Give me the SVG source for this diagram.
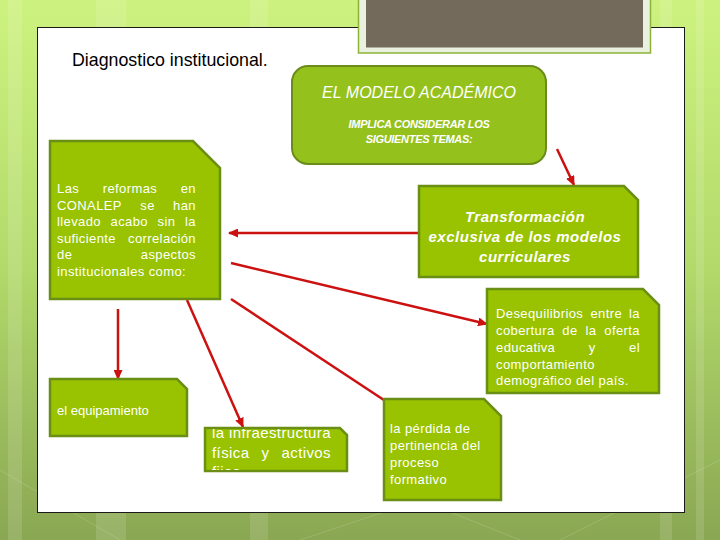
<svg xmlns="http://www.w3.org/2000/svg" width="720" height="540" viewBox="0 0 720 540">
<defs>
<linearGradient id="bg" x1="0" y1="0" x2="0" y2="1">
<stop offset="0" stop-color="#cdf27f"/>
<stop offset="0.5" stop-color="#b2d96a"/>
<stop offset="1" stop-color="#8aa753"/>
</linearGradient>
<marker id="ah" markerUnits="userSpaceOnUse" markerWidth="10" markerHeight="9" refX="9" refY="4.5" orient="auto">
<path d="M0,0 L10,4.5 L0,9 Z" fill="#cc1111"/>
</marker>
<clipPath id="clipInfra"><rect x="206" y="429" width="140" height="41"/></clipPath>
<style>
.box{fill:#99c300;stroke:#6a8f14;stroke-width:2.5}
.rbox{fill:#95c11c;stroke:#6b8c1a;stroke-width:2}
.t{font-family:"Liberation Sans",Arial,sans-serif;font-size:13px;fill:#ffffff;letter-spacing:0.4px}
.m{text-anchor:middle}
.e{text-anchor:end}
.conn line{stroke:#cc1111;stroke-width:2.5;marker-end:url(#ah)}
</style>
</defs>
<rect x="0" y="0" width="720" height="540" fill="url(#bg)"/>
<g fill="#ffffff" opacity="0.12">
<rect x="8" y="0" width="14" height="540"/>
<rect x="96" y="0" width="30" height="540"/>
<rect x="250" y="0" width="18" height="540"/>
<rect x="660" y="0" width="12" height="540"/>
<rect x="696" y="0" width="8" height="540"/>
</g>
<g stroke="#ffffff" stroke-width="1" opacity="0.15" fill="none">
<path d="M0,470 L120,540"/>
<path d="M560,540 L720,460"/>
<path d="M300,540 L420,500 L520,540"/>
</g>
<rect x="37.5" y="27.5" width="647" height="485" fill="#ffffff" stroke="#1a1a1a" stroke-width="1"/>
<g id="header">
<rect x="358.5" y="-5" width="292" height="58" fill="#eaf2df" stroke="#8db33a" stroke-width="1.5"/>
<rect x="366" y="-5" width="277" height="52.5" fill="#736a5b"/>
</g>
<text x="72" y="66" font-family="'Liberation Sans',Arial,sans-serif" font-size="17.8" fill="#000000">Diagnostico institucional.</text>
<g class="conn">
<line x1="557" y1="149" x2="574" y2="185"/>
<line x1="418" y1="233" x2="229" y2="233"/>
<line x1="231" y1="263" x2="487" y2="324"/>
<line x1="231" y1="299" x2="393" y2="406"/>
<line x1="187" y1="300" x2="243" y2="427"/>
<line x1="118" y1="309" x2="118" y2="379"/>
</g>
<g id="modelo">
<rect class="rbox" x="292" y="66" width="254" height="98" rx="16"/>
<text class="t m" x="419" y="98" style="font-size:16px;font-style:italic;letter-spacing:0">EL MODELO ACADÉMICO</text>
<text class="t m" x="419" y="128" style="font-size:11px;font-style:italic;font-weight:bold;letter-spacing:-0.3px">IMPLICA CONSIDERAR LOS</text>
<text class="t m" x="419" y="143" style="font-size:11px;font-style:italic;font-weight:bold;letter-spacing:-0.3px">SIGUIENTES TEMAS:</text>
</g>
<g id="reformas">
<path class="box" d="M50,141 H193 L220,168 V299 H50 Z"/>
<text class="t" x="57" y="193">Las</text><text class="t m" x="130" y="193">reformas</text><text class="t e" x="196" y="193">en</text>
<text class="t" x="57" y="209.5">CONALEP</text><text class="t m" x="147.5" y="209.5">se</text><text class="t e" x="196" y="209.5">han</text>
<text class="t" x="57" y="226">llevado</text><text class="t m" x="129.3" y="226">acabo</text><text class="t m" x="166.5" y="226">sin</text><text class="t e" x="196" y="226">la</text>
<text class="t" x="57" y="242.5">suficiente</text><text class="t e" x="196" y="242.5">correlación</text>
<text class="t" x="57" y="259">de</text><text class="t e" x="196" y="259">aspectos</text>
<text class="t" x="57" y="275.5">institucionales como:</text>
</g>
<g id="transformacion">
<path class="box" d="M419,186 H624 L638,200 V277 H419 Z"/>
<text class="t m" x="525" y="222" style="font-size:15px;font-style:italic;font-weight:bold;letter-spacing:0.5px">Transformación</text>
<text class="t m" x="525" y="242" style="font-size:15px;font-style:italic;font-weight:bold;letter-spacing:0.5px">exclusiva de los modelos</text>
<text class="t m" x="525" y="262" style="font-size:15px;font-style:italic;font-weight:bold;letter-spacing:0.5px">curriculares</text>
</g>
<g id="desequilibrios">
<path class="box" d="M487,289 H643 L659,305 V393 H487 Z"/>
<text class="t" x="496" y="318">Desequilibrios</text><text class="t m" x="606.2" y="318">entre</text><text class="t e" x="640" y="318">la</text>
<text class="t" x="496" y="335">cobertura</text><text class="t m" x="570" y="335">de</text><text class="t m" x="591" y="335">la</text><text class="t e" x="640" y="335">oferta</text>
<text class="t" x="496" y="352">educativa</text><text class="t m" x="592.2" y="352">y</text><text class="t e" x="640" y="352">el</text>
<text class="t" x="496" y="368.5">comportamiento</text>
<text class="t" x="496" y="385">demográfico del país.</text>
</g>
<g id="equipamiento">
<path class="box" d="M50,379 H177 L187,389 V436 H50 Z"/>
<text class="t" x="57" y="415" style="letter-spacing:0">el equipamiento</text>
</g>
<g id="infraestructura">
<path class="box" d="M205,428 H340 L347,435 V471 H205 Z"/>
<g clip-path="url(#clipInfra)">
<text class="t" x="212" y="438" style="font-size:15px">la infraestructura</text>
<text class="t" x="212" y="457.5" style="font-size:15px">física</text><text class="t m" x="265.5" y="457.5" style="font-size:15px">y</text><text class="t e" x="331" y="457.5" style="font-size:15px">activos</text>
<text class="t" x="212" y="477" style="font-size:15px">fijos</text>
</g>
</g>
<g id="perdida">
<path class="box" d="M384,399 H484 L501,416 V500 H384 Z"/>
<text class="t" x="390" y="433">la pérdida de</text>
<text class="t" x="390" y="450">pertinencia del</text>
<text class="t" x="390" y="467">proceso</text>
<text class="t" x="390" y="484">formativo</text>
</g>
</svg>
